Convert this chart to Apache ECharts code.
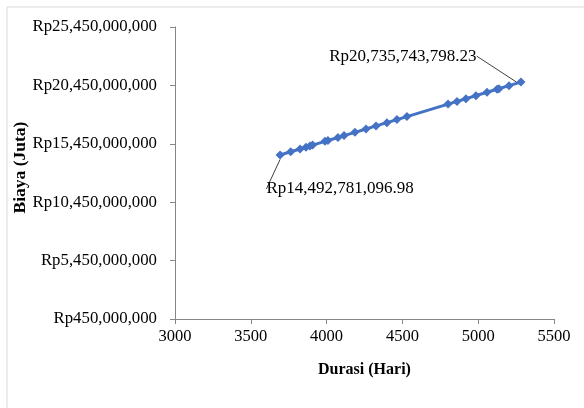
<!DOCTYPE html>
<html>
<head>
<meta charset="utf-8">
<script src="https://cdn.jsdelivr.net/npm/echarts@6/dist/echarts.min.js"></script>
<style>
  html, body { margin: 0; padding: 0; background: #fff; }
  #chart { width: 584px; height: 408px; }
</style>
</head>
<body>
<div id="chart"></div>
<script>
// durasi (hari) vs biaya (Rp)
var durasi = [3693, 3763, 3825, 3864, 3890, 3908, 3989, 4009, 4075, 4115, 4187, 4260,
  4326, 4398, 4464, 4530, 4801, 4860, 4919, 4985, 5058, 5124, 5137, 5203, 5282]
var biaya = [14492781096.98, 14770000000, 15010000000, 15160000000, 15270000000, 15340000000,
  15660000000, 15730000000, 15990000000, 16150000000, 16430000000, 16720000000,
  16980000000, 17260000000, 17520000000, 17780000000, 18850000000, 19080000000,
  19310000000, 19570000000, 19860000000, 20120000000, 20170000000, 20430000000,
  20735743798.23]
var labelTeks = ['Rp14,492,781,096.98', 'Rp20,735,743,798.23']

var serif = 'Liberation Serif'
var last = durasi.length - 1

var data = durasi.map(function (d, i) {
  var item = { value: [d, biaya[i]] }
  if (i === 0 || i === last) {
    item.label = {
      show: true,
      position: 'top',
      fontFamily: serif,
      fontSize: 17,
      color: '#000',
      formatter: i === 0 ? labelTeks[0] : labelTeks[1]
    }
    item.labelLine = { show: true, lineStyle: { color: '#404040', width: 1 } }
  }
  return item
})

var myChart = echarts.init(document.getElementById('chart'))
var option = {
  animation: false,
  backgroundColor: '#fff',
  graphic: [{
    type: 'rect',
    shape: { x: 7, y: 7, width: 620, height: 440 },
    style: { fill: 'none', stroke: '#d9d9d9', lineWidth: 1 },
    silent: true
  }],
  grid: { left: 175, right: 30, top: 27, bottom: 89, containLabel: false, outerBoundsMode: 'none' },
  xAxis: {
    type: 'value',
    min: 3000,
    max: 5500,
    interval: 500,
    name: 'Durasi (Hari)',
    nameLocation: 'middle',
    nameGap: 43,
    nameMoveOverlap: false,
    nameTextStyle: { fontFamily: serif, fontSize: 16, fontWeight: 'bold', color: '#000' },
    axisLine: { show: true, lineStyle: { color: '#868686' } },
    axisTick: { show: true, length: 5, lineStyle: { color: '#868686' } },
    axisLabel: {
      fontFamily: serif,
      fontSize: 16.5,
      color: '#000',
      margin: 9,
      formatter: function (v) { return String(v) }
    },
    splitLine: { show: false }
  },
  yAxis: {
    type: 'value',
    min: 450000000,
    max: 25450000000,
    interval: 5000000000,
    name: 'Biaya (Juta)',
    nameLocation: 'middle',
    nameGap: 146,
    nameMoveOverlap: false,
    nameTextStyle: {
      fontFamily: serif,
      fontSize: 17.5,
      fontWeight: 'bold',
      color: '#000',
      padding: [0, 0, 0, 11]
    },
    axisLine: { show: true, lineStyle: { color: '#868686' } },
    axisTick: { show: true, length: 5, lineStyle: { color: '#868686' } },
    axisLabel: {
      fontFamily: serif,
      fontSize: 16.8,
      color: '#000',
      margin: 18,
      formatter: function (v) {
        return 'Rp' + Math.round(v).toLocaleString('en-US')
      }
    },
    splitLine: { show: false }
  },
  series: [{
    type: 'line',
    data: data,
    symbol: 'diamond',
    symbolSize: 9,
    lineStyle: { color: '#4472C4', width: 3 },
    itemStyle: { color: '#4472C4' },
    label: { show: false },
    labelLayout: function (p) {
      if (p.dataIndex === 0) return { dx: 60, dy: 52 }
      if (p.dataIndex === last) return { dx: -118, dy: -8 }
      return {}
    }
  }]
}
myChart.setOption(option)
</script>
</body>
</html>
